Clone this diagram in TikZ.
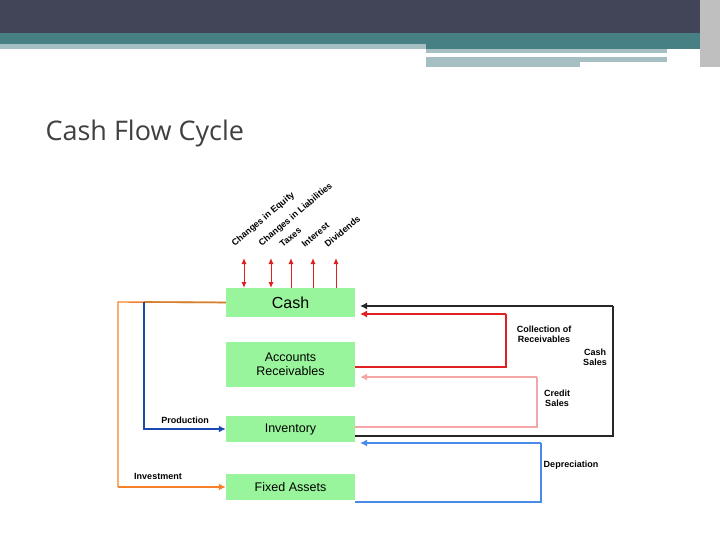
\documentclass[tikz,border=0pt]{standalone}
\usepackage{fontspec}
\setmainfont{Liberation Sans}
\newfontfamily\titlefont{Open Sans}
\usetikzlibrary{positioning}
\usetikzlibrary{arrows.meta}
\definecolor{boxgreen}{HTML}{99F59C}
\definecolor{headdark}{HTML}{424458}
\definecolor{headteal}{HTML}{467F84}
\definecolor{headlight}{HTML}{A6BFC2}
\definecolor{flowred}{HTML}{E02020}
\definecolor{flowpink}{HTML}{F4A6A6}
\definecolor{flowblue}{HTML}{1A49B0}
\definecolor{flowsky}{HTML}{4A8AE8}
\definecolor{floworange}{HTML}{F5822A}
\tikzstyle{block}=[fill=boxgreen, minimum width=129pt, inner sep=0pt, align=center, font=\fontsize{16}{17}\selectfont]
\tikzstyle{lbl}=[font=\bfseries\fontsize{9}{10}\selectfont, align=center, inner sep=0pt]
\tikzstyle{slanted}=[font=\bfseries\fontsize{9}{10}\selectfont, rotate=40, anchor=south west, inner sep=0pt]
\tikzstyle{flow}=[line width=1.6pt, -{Latex[length=7pt,width=7pt]}]
\tikzstyle{both}=[{Latex[length=6pt,width=5pt]}-{Latex[length=6pt,width=5pt]}]
\tikzstyle{one}=[-{Latex[length=6pt,width=5pt]}]
\begin{document}
\begin{tikzpicture}[x=1pt,y=-1pt]
            \useasboundingbox (0,0) rectangle (720,540);
            % header bands
            \fill[headdark] (0,0) rectangle (720,33);
            \fill[headteal] (0,33) rectangle (720,44);
            \fill[headlight] (0,44) rectangle (426,49);
            \fill[headteal] (426,44) rectangle (720,49);
            \fill[headlight] (426,49) rectangle (667,53);
            \fill[headlight] (426,57) rectangle (580,67);
            \fill[headlight] (580,57) rectangle (667,62);
            \fill[gray!50] (700,0) rectangle (720,67);
            \node[anchor=west, text=black!75, font=\titlefont\fontsize{27}{30}\selectfont] (title) at (42,133) {Cash Flow Cycle};

            % blocks
            \node[block, minimum height=29pt] (cash) at (290.5,302.5) {Cash};
            \node[block, minimum height=45pt, font=\fontsize{12.5}{14}\selectfont] (ar) at (290.5,364.5) {Accounts\\Receivables};
            \node[block, minimum height=26pt, font=\fontsize{12.5}{14}\selectfont] (inv) at (290.5,429) {Inventory};
            \node[block, minimum height=26pt, font=\fontsize{12.5}{14}\selectfont] (fa) at (290.5,487) {Fixed Assets};

            % flows leaving cash at the top
            \foreach \x/\t/\tip in {244/Changes in Equity/both, 271/Changes in Liabilities/both, 291/Taxes/one, 313/Interest/one, 336/Dividends/one} {
                \coordinate (top\x) at (\x,258);
                \draw[flowred, line width=1pt, \tip] (\x,288) -- (top\x);
                \node[slanted] at (\x-8,248) {\t};
            }

            % left side flows
            \coordinate (ol) at (118,302);
            \coordinate (ob) at (118,487);
            \coordinate (bl) at (144,302);
            \coordinate (bb) at (144,429);
            \draw[floworange, line width=1.4pt] (cash.west) -- (ol) -- (ob);
            \draw[floworange, flow, line width=1.4pt] (ob) -- (fa.west);
            \draw[brown!70!orange, line width=1.6pt] (cash.west) -- (bl);
            \draw[flowblue, flow] (bl) -- (bb) -- (inv.west);
            \node[lbl] (prod) at (185,420) {Production};
            \node[lbl] (invest) at (158,476) {Investment};

            % right side flows
            \coordinate (k1) at (613,436);
            \coordinate (k2) at (613,306);
            \draw[black!85, line width=1.4pt] (inv.east |- k1) -- (k1) -- (k2);
            \draw[black!85, flow, line width=1.4pt] (k2) -- (360,306);
            \coordinate (r1) at (506,367);
            \coordinate (r2) at (506,314);
            \draw[flowred, line width=1.4pt] (ar.east |- r1) -- (r1) -- (r2);
            \draw[flowred, flow, line width=1.4pt] (r2) -- (360,314);
            \coordinate (p1) at (537,427);
            \coordinate (p2) at (537,377);
            \draw[flowpink, line width=1.4pt] (inv.east |- p1) -- (p1) -- (p2);
            \draw[flowpink, flow, line width=1.4pt] (p2) -- (360,377);
            \coordinate (s1) at (541,502);
            \coordinate (s2) at (541,443);
            \draw[flowsky, line width=1.4pt] (fa.east |- s1) -- (s1) -- (s2);
            \draw[flowsky, flow, line width=1.4pt] (s2) -- (360,443);

            \node[lbl] (coll) at (544,334) {Collection of\\Receivables};
            \node[lbl] (cashs) at (595,357) {Cash\\Sales};
            \node[lbl] (cred) at (557,398) {Credit\\Sales};
            \node[lbl] (dep) at (571,465) {Depreciation};
\end{tikzpicture}
\end{document}
